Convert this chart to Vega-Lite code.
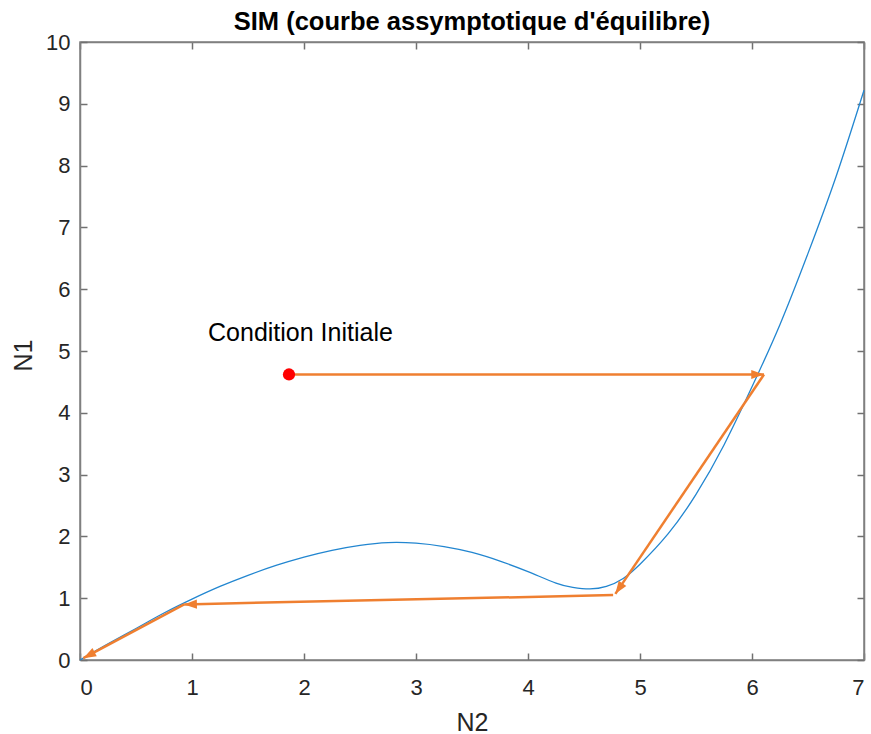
{
  "$schema": "https://vega.github.io/schema/vega-lite/v6.json",
  "width": 784,
  "height": 618,
  "autosize": {"type": "none"},
  "padding": {"left": 80, "top": 42, "right": 7, "bottom": 74},
  "title": {
    "text": "SIM (courbe assymptotique d'équilibre)",
    "font": "Liberation Sans",
    "fontSize": 25.5,
    "fontWeight": "bold",
    "color": "#000000",
    "anchor": "middle",
    "baseline": "alphabetic",
    "offset": 10,
    "dy": 34
  },
  "config": {
    "view": {"stroke": "#808080", "strokeWidth": 1.5},
    "axis": {
      "grid": false,
      "domainColor": "#808080",
      "domainWidth": 1.5,
      "tickColor": "#707070",
      "tickWidth": 1.5,
      "tickSize": -7,
      "labelFont": "Liberation Sans",
      "labelFontSize": 22,
      "labelColor": "#262626",
      "titleFont": "Liberation Sans",
      "titleFontSize": 25,
      "titleFontWeight": "normal",
      "titleColor": "#262626"
    }
  },
  "resolve": {"axis": {"x": "independent", "y": "independent"}},
  "layer": [
    {
      "data": {
        "values": [
          {"n2": 0, "n1": 0},
          {"n2": 0.25, "n1": 0.26},
          {"n2": 0.5, "n1": 0.51},
          {"n2": 0.75, "n1": 0.76},
          {"n2": 1.0, "n1": 0.985},
          {"n2": 1.25, "n1": 1.19},
          {"n2": 1.5, "n1": 1.37},
          {"n2": 1.75, "n1": 1.53},
          {"n2": 2.0, "n1": 1.665},
          {"n2": 2.25, "n1": 1.775},
          {"n2": 2.5, "n1": 1.855},
          {"n2": 2.75, "n1": 1.9},
          {"n2": 3.0, "n1": 1.89},
          {"n2": 3.25, "n1": 1.835},
          {"n2": 3.5, "n1": 1.74},
          {"n2": 3.75, "n1": 1.6},
          {"n2": 4.0, "n1": 1.43},
          {"n2": 4.25, "n1": 1.245},
          {"n2": 4.4, "n1": 1.175},
          {"n2": 4.55, "n1": 1.15},
          {"n2": 4.7, "n1": 1.19},
          {"n2": 4.85, "n1": 1.32},
          {"n2": 5.0, "n1": 1.55},
          {"n2": 5.25, "n1": 2.04},
          {"n2": 5.5, "n1": 2.68},
          {"n2": 5.75, "n1": 3.48},
          {"n2": 6.0, "n1": 4.42},
          {"n2": 6.25, "n1": 5.43},
          {"n2": 6.5, "n1": 6.58},
          {"n2": 6.75, "n1": 7.82},
          {"n2": 7.0, "n1": 9.22}
        ]
      },
      "mark": {"type": "line", "color": "#2286D0", "strokeWidth": 1.3, "interpolate": "natural"},
      "encoding": {
        "x": {
          "field": "n2", "type": "quantitative",
          "scale": {"domain": [0, 7], "nice": false, "zero": false},
          "axis": {"orient": "bottom", "title": "N2", "values": [0,1,2,3,4,5,6,7], "labelPadding": 24, "titleY": 70, "titleBaseline": "alphabetic"}
        },
        "y": {
          "field": "n1", "type": "quantitative",
          "scale": {"domain": [0, 10], "nice": false, "zero": false},
          "axis": {"orient": "left", "title": "N1", "values": [0,1,2,3,4,5,6,7,8,9,10], "labelPadding": 17, "titleX": -49, "titleY": 313, "titleBaseline": "alphabetic"}
        }
      }
    },
    {
      "data": {
        "values": [
          {"x1": 1.866, "y1": 4.62, "x2": 6.107, "y2": 4.62},
          {"x1": 6.107, "y1": 4.62, "x2": 4.78, "y2": 1.07},
          {"x1": 4.76, "y1": 1.05, "x2": 0.93, "y2": 0.9},
          {"x1": 0.93, "y1": 0.9, "x2": 0.03, "y2": 0.03}
        ]
      },
      "mark": {"type": "rule", "color": "#EF7F30", "strokeWidth": 2.5},
      "encoding": {
        "x": {"field": "x1", "type": "quantitative", "axis": {"orient": "top", "labels": false, "title": null, "values": [0,1,2,3,4,5,6,7]}},
        "y": {"field": "y1", "type": "quantitative", "axis": {"orient": "right", "labels": false, "title": null, "values": [0,1,2,3,4,5,6,7,8,9,10]}},
        "x2": {"field": "x2"},
        "y2": {"field": "y2"}
      }
    },
    {
      "data": {
        "values": [
          {"x1": 1.866, "y1": 4.62, "x2": 6.107, "y2": 4.62},
          {"x1": 6.107, "y1": 4.62, "x2": 4.78, "y2": 1.07},
          {"x1": 4.76, "y1": 1.05, "x2": 0.93, "y2": 0.9},
          {"x1": 0.93, "y1": 0.9, "x2": 0.03, "y2": 0.03}
        ]
      },
      "transform": [
        {"calculate": "atan2((datum.x2 - datum.x1) * 112, (datum.y2 - datum.y1) * 61.8) * 180 / PI", "as": "ang"}
      ],
      "mark": {"type": "point", "shape": "M0,0L-0.36,1L0.36,1Z", "filled": true, "color": "#EF7F30", "opacity": 1, "size": 650},
      "encoding": {
        "x": {"field": "x2", "type": "quantitative", "axis": null},
        "y": {"field": "y2", "type": "quantitative", "axis": null},
        "angle": {"field": "ang", "type": "quantitative", "scale": null}
      }
    },
    {
      "data": {"values": [{"n2": 1.866, "n1": 4.62}]},
      "mark": {"type": "point", "shape": "circle", "filled": true, "color": "#FF0000", "opacity": 1, "size": 150},
      "encoding": {
        "x": {"field": "n2", "type": "quantitative", "axis": null},
        "y": {"field": "n1", "type": "quantitative", "axis": null}
      }
    },
    {
      "data": {"values": [{"n2": 1.143, "n1": 5.16, "label": "Condition Initiale"}]},
      "mark": {"type": "text", "font": "Liberation Sans", "fontSize": 25, "color": "#000000", "align": "left", "baseline": "alphabetic"},
      "encoding": {
        "x": {"field": "n2", "type": "quantitative", "axis": null},
        "y": {"field": "n1", "type": "quantitative", "axis": null},
        "text": {"field": "label"}
      }
    }
  ]
}
